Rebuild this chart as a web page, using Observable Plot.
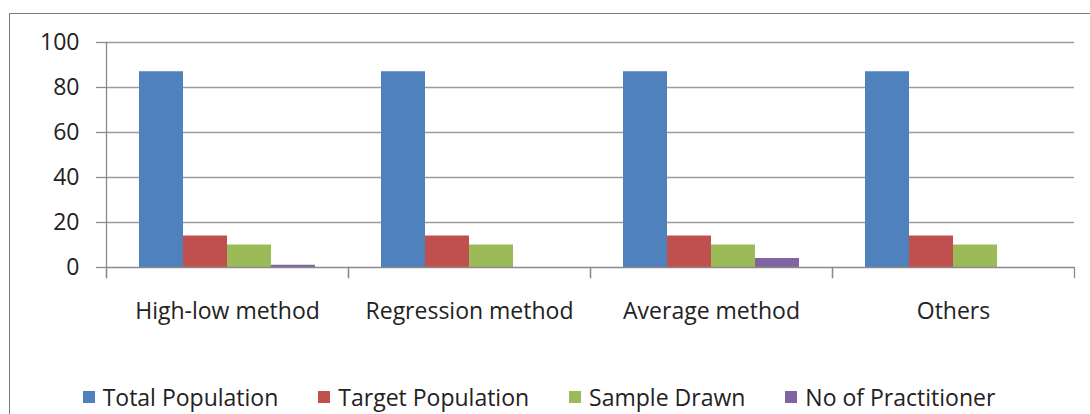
<!DOCTYPE html>
<html>
<head>
<meta charset="utf-8">
<script src="https://cdn.jsdelivr.net/npm/d3@7"></script>
<script src="https://cdn.jsdelivr.net/npm/@observablehq/plot@0.6"></script>
<style>
  html, body { margin: 0; padding: 0; background: #fff; }
  body { width: 1090px; height: 414px; position: relative; overflow: hidden; font-family: "Open Sans", sans-serif; }
  #border { position: absolute; left: 9px; top: 13px; width: 1100px; height: 420px; border-left: 1.5px solid #7a7a7a; border-top: 1.5px solid #7a7a7a; box-sizing: border-box; }
  #chart { position: absolute; left: 0; top: 0; }
  #legend { position: absolute; left: 0; top: 380px; width: 1078px; height: 34px; display: flex; justify-content: center; align-items: center; }
  .lg-swatches-wrap { display: flex; align-items: center; justify-content: center; margin: 0 !important; min-height: 0 !important; }
  .lg-swatch { margin-right: 40px !important; margin-left: 0 !important; font-size: 23px; color: #222; display: inline-flex; align-items: center; }
  .lg-swatch:last-child { margin-right: 0 !important; }
  .lg-swatch > svg { margin-right: 8px !important; }
</style>
</head>
<body>
<div id="border"></div>
<div id="chart"></div>
<div id="legend"></div>
<script>
const categories = ["High-low method", "Regression method", "Average method", "Others"];
const series = ["Total Population", "Target Population", "Sample Drawn", "No of Practitioner"];
const totalPopulation = [87, 87, 87, 87];
const targetPopulation = [14, 14, 14, 14];
const sampleDrawn = [10, 10, 10, 10];
const noOfPractitioner = [1, 0, 4, 0];
const yTicks = [0, 20, 40, 60, 80, 100];
const colors = ["#4f81bd", "#c0504d", "#9bbb59", "#8064a2"];

const seriesValues = [totalPopulation, targetPopulation, sampleDrawn, noOfPractitioner];
const data = [];
categories.forEach((c, i) => {
  series.forEach((s, j) => data.push({category: c, series: s, value: seriesValues[j][i]}));
});

const gridColor = "#9c9c9c";
const axisColor = "#8a8a8a";

const chart = Plot.plot({
  width: 1090,
  height: 340,
  marginTop: 42,
  marginBottom: 73,
  marginLeft: 105,
  marginRight: 15,
  style: {fontFamily: "'Open Sans', sans-serif", fontSize: "23px", color: "#222", background: "transparent"},
  fx: {domain: categories, padding: 0, label: null},
  x: {domain: series, paddingInner: 0, paddingOuter: 0.75, axis: null},
  y: {domain: [0, 100], axis: null},
  color: {domain: series, range: colors},
  marks: [
    Plot.ruleY(yTicks.filter(d => d > 0), {stroke: gridColor, strokeWidth: 1.5}),
    Plot.barY(data, {fx: "category", x: "series", y: "value", fill: "series"}),
    Plot.ruleY([0], {stroke: axisColor, strokeWidth: 1.5}),
    Plot.frame({anchor: "left", insetTop: 225, insetBottom: -10, stroke: axisColor, strokeWidth: 1.3}),
    Plot.frame({anchor: "right", insetTop: 225, insetBottom: -10, stroke: axisColor, strokeWidth: 1.3}),
    Plot.frame({anchor: "left", facet: "super", insetBottom: -10, stroke: axisColor, strokeWidth: 1.3}),
    Plot.axisY({ticks: yTicks, tickSize: 10, tickPadding: 17, label: null, stroke: axisColor, strokeWidth: 1.3, fill: "#222", fontSize: 23}),
    Plot.axisFx({anchor: "bottom", tickSize: 0, tickPadding: 35, label: null, fill: "#222", fontSize: 23})
  ]
});
document.getElementById("chart").appendChild(chart);

const legend = Plot.legend({
  color: {domain: series, range: colors},
  swatchSize: 12,
  className: "lg",
  style: {fontFamily: "'Open Sans', sans-serif", fontSize: "23px", color: "#222"}
});
document.getElementById("legend").appendChild(legend);
</script>
</body>
</html>
